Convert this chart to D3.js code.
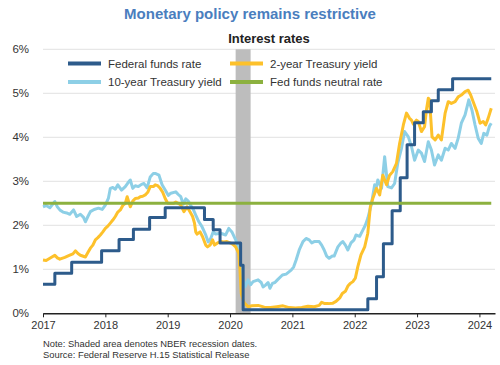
<!DOCTYPE html>
<html>
<head>
<meta charset="utf-8">
<script src="https://cdn.jsdelivr.net/npm/d3@7"></script>
<style>
  body { margin: 0; background: #fff; }
  svg { font-family: "Liberation Sans", Arial, sans-serif; }
</style>
</head>
<body>
<svg id="chart" width="500" height="365"></svg>
<script>
// --- data (decimal years, percent) ---
var fedFundsT = [2017.00, 2017.19, 2017.46, 2017.94, 2018.22, 2018.45, 2018.71, 2018.96, 2019.59, 2019.73, 2019.84, 2020.17, 2020.21,
  2022.21, 2022.35, 2022.46, 2022.60, 2022.73, 2022.84, 2022.96, 2023.10, 2023.23, 2023.34, 2023.57, 2024.19];
var fedFundsV = [0.66, 0.91, 1.16, 1.42, 1.68, 1.91, 2.18, 2.40, 2.13, 1.90, 1.60, 1.09, 0.08,
  0.33, 0.83, 1.58, 2.33, 3.08, 3.83, 4.33, 4.58, 4.83, 5.08, 5.33, 5.33];

var tenYearT = [2017.00, 2017.05, 2017.11, 2017.19, 2017.23, 2017.27, 2017.32, 2017.38, 2017.43, 2017.49, 2017.54, 2017.60, 2017.65, 2017.68, 2017.72, 2017.76, 2017.82, 2017.89, 2017.95,
  2018.00, 2018.05, 2018.08, 2018.12, 2018.16, 2018.20, 2018.26, 2018.32, 2018.36, 2018.40, 2018.44, 2018.48, 2018.53, 2018.58, 2018.62, 2018.67, 2018.72, 2018.77, 2018.80, 2018.86, 2018.91, 2018.96,
  2019.01, 2019.05, 2019.13, 2019.17, 2019.21, 2019.25, 2019.29, 2019.33, 2019.37, 2019.41, 2019.45, 2019.50, 2019.55, 2019.61, 2019.65, 2019.69, 2019.73, 2019.77, 2019.85, 2019.93, 2019.98,
  2020.03, 2020.09, 2020.14, 2020.17, 2020.19, 2020.22, 2020.24, 2020.29, 2020.33, 2020.37, 2020.45, 2020.50, 2020.53, 2020.57, 2020.61, 2020.64, 2020.68, 2020.72, 2020.76, 2020.84, 2020.90, 2020.98,
  2021.02, 2021.06, 2021.11, 2021.17, 2021.22, 2021.27, 2021.31, 2021.35, 2021.43, 2021.47, 2021.51, 2021.55, 2021.59, 2021.64, 2021.67, 2021.73, 2021.78, 2021.81, 2021.85, 2021.89, 2021.94, 2021.99,
  2022.02, 2022.08, 2022.13, 2022.17, 2022.21, 2022.27, 2022.32, 2022.35, 2022.37, 2022.43, 2022.48, 2022.53, 2022.59, 2022.64, 2022.69, 2022.75, 2022.80, 2022.86, 2022.91, 2022.96,
  2023.02, 2023.07, 2023.12, 2023.18, 2023.23, 2023.28, 2023.34, 2023.39, 2023.45, 2023.50, 2023.55, 2023.61, 2023.66, 2023.71, 2023.77, 2023.83, 2023.88, 2023.93, 2023.98,
  2024.03, 2024.07, 2024.12, 2024.16, 2024.19];
var tenYearV = [2.42, 2.45, 2.40, 2.54, 2.42, 2.35, 2.30, 2.28, 2.25, 2.35, 2.20, 2.25, 2.18, 2.08, 2.20, 2.31, 2.36, 2.39, 2.36,
  2.46, 2.62, 2.84, 2.86, 2.82, 2.92, 2.80, 2.88, 2.96, 3.03, 2.84, 2.90, 2.88, 2.93, 2.95, 2.85, 3.10, 3.18, 3.18, 3.14, 2.92, 2.80,
  2.68, 2.73, 2.76, 2.70, 2.65, 2.48, 2.60, 2.55, 2.45, 2.36, 2.23, 2.08, 1.97, 1.78, 1.62, 1.70, 1.85, 1.80, 1.82, 1.78, 1.93,
  1.85, 1.67, 1.48, 1.10, 0.80, 0.72, 0.60, 0.76, 0.65, 0.72, 0.76, 0.70, 0.60, 0.64, 0.70, 0.57, 0.68, 0.70, 0.76, 0.87, 0.89, 0.98,
  1.05, 1.21, 1.44, 1.63, 1.70, 1.67, 1.60, 1.63, 1.63, 1.55, 1.44, 1.30, 1.25, 1.30, 1.30, 1.51, 1.60, 1.63, 1.55, 1.44, 1.60, 1.67,
  1.78, 1.75, 1.89, 2.00, 2.16, 2.50, 2.92, 2.88, 3.03, 2.84, 3.56, 2.88, 2.85, 2.95, 3.41, 3.75, 4.13, 4.01, 3.79, 3.48,
  3.71, 3.64, 3.45, 3.90, 3.71, 3.37, 3.60, 3.48, 3.75, 3.71, 3.86, 3.75, 3.98, 4.32, 4.51, 4.85, 4.62, 4.28, 3.98,
  3.86, 4.09, 4.05, 4.25, 4.32];

var twoYearT = [2017.00, 2017.05, 2017.11, 2017.19, 2017.23, 2017.27, 2017.35, 2017.43, 2017.48, 2017.52, 2017.56, 2017.60, 2017.68, 2017.72, 2017.76, 2017.80, 2017.84, 2017.88, 2017.92, 2017.96,
  2018.00, 2018.04, 2018.08, 2018.12, 2018.16, 2018.20, 2018.24, 2018.28, 2018.32, 2018.35, 2018.40, 2018.44, 2018.48, 2018.53, 2018.56, 2018.60, 2018.64, 2018.68, 2018.72, 2018.77, 2018.80, 2018.84, 2018.88, 2018.92, 2018.96,
  2019.00, 2019.05, 2019.09, 2019.13, 2019.17, 2019.21, 2019.26, 2019.31, 2019.36, 2019.40, 2019.43, 2019.45, 2019.47, 2019.52, 2019.56, 2019.61, 2019.64, 2019.68, 2019.72, 2019.75, 2019.80, 2019.85, 2019.90, 2019.95,
  2020.02, 2020.06, 2020.09, 2020.14, 2020.16, 2020.18, 2020.21, 2020.23, 2020.29, 2020.35, 2020.45, 2020.55, 2020.65, 2020.75, 2020.85, 2020.95,
  2021.05, 2021.15, 2021.25, 2021.35, 2021.43, 2021.47, 2021.52, 2021.58, 2021.65, 2021.70, 2021.76, 2021.80, 2021.85, 2021.89, 2021.93, 2021.97,
  2022.01, 2022.05, 2022.10, 2022.16, 2022.21, 2022.25, 2022.29, 2022.35, 2022.40, 2022.45, 2022.51, 2022.56, 2022.61, 2022.67, 2022.72, 2022.78, 2022.83, 2022.88, 2022.91, 2022.94, 2022.99,
  2023.02, 2023.07, 2023.12, 2023.15, 2023.18, 2023.20, 2023.24, 2023.29, 2023.34, 2023.39, 2023.45, 2023.50, 2023.55, 2023.61, 2023.66, 2023.71, 2023.77, 2023.82, 2023.86, 2023.90, 2023.96,
  2024.01, 2024.06, 2024.10, 2024.14, 2024.19];
var twoYearV = [1.21, 1.20, 1.25, 1.32, 1.26, 1.23, 1.27, 1.32, 1.35, 1.42, 1.36, 1.32, 1.28, 1.38, 1.48, 1.55, 1.67, 1.72, 1.78, 1.85,
  1.93, 1.98, 2.05, 2.12, 2.20, 2.30, 2.35, 2.45, 2.50, 2.65, 2.42, 2.55, 2.61, 2.62, 2.65, 2.66, 2.69, 2.75, 2.88, 2.88, 2.92, 2.90, 2.84, 2.75, 2.61,
  2.50, 2.50, 2.50, 2.53, 2.50, 2.46, 2.31, 2.42, 2.30, 2.20, 2.05, 1.85, 1.80, 1.85, 1.74, 1.55, 1.51, 1.55, 1.67, 1.55, 1.60, 1.63, 1.62, 1.63,
  1.59, 1.55, 1.51, 1.36, 0.98, 0.45, 0.30, 0.23, 0.15, 0.17, 0.18, 0.14, 0.13, 0.15, 0.17, 0.13,
  0.12, 0.13, 0.16, 0.15, 0.18, 0.25, 0.22, 0.22, 0.23, 0.27, 0.35, 0.45, 0.50, 0.62, 0.68, 0.72,
  0.80, 1.06, 1.33, 1.51, 1.82, 2.42, 2.61, 2.84, 2.69, 3.14, 2.92, 3.14, 3.22, 3.41, 3.86, 4.28, 4.55, 4.43, 4.39, 4.30, 4.39,
  4.36, 4.13, 4.24, 4.62, 4.89, 4.85, 4.01, 3.94, 4.05, 3.94, 4.55, 4.81, 4.77, 4.81, 4.92, 4.96, 5.04, 5.07, 4.96, 4.81, 4.58,
  4.32, 4.36, 4.28, 4.43, 4.66];

var neutralT = [2017.00, 2024.19];
var neutralV = [2.5, 2.5];

var recession = [2020.09, 2020.33];
var yearTicks = [2017, 2018, 2019, 2020, 2021, 2022, 2023, 2024];
var pctTicks = [0, 1, 2, 3, 4, 5, 6];

// --- config ---
var colFed = "#2d5b8b";
var colTen = "#8dcfe6";
var colTwo = "#fdc12b";
var colNeutral = "#8cb13f";

var svg = d3.select("#chart");
var x = d3.scaleLinear().domain([2017, 2024.25]).range([43, 495]);
var y = d3.scaleLinear().domain([0, 6]).range([313.3, 49.3]);

// title
svg.append("text").attr("x", 250).attr("y", 19).attr("text-anchor", "middle")
  .attr("font-size", 15).attr("font-weight", "bold").attr("fill", "#4a7ebe")
  .text("Monetary policy remains restrictive");
svg.append("text").attr("x", 269).attr("y", 43).attr("text-anchor", "middle")
  .attr("font-size", 13).attr("font-weight", "bold").attr("fill", "#222")
  .text("Interest rates");

// gridlines + y labels
svg.append("g").selectAll("line").data(pctTicks.slice(1)).enter().append("line")
  .attr("x1", 43).attr("x2", 495)
  .attr("y1", d => y(d)).attr("y2", d => y(d))
  .attr("stroke", "#e2e2e2").attr("stroke-width", 1);
svg.append("g").selectAll("text").data(pctTicks).enter().append("text")
  .attr("x", 29).attr("y", d => y(d)).attr("dy", "0.35em")
  .attr("text-anchor", "end").attr("font-size", 11.5).attr("fill", "#333")
  .text(d => d + "%");

// recession band
svg.append("rect")
  .attr("x", x(recession[0])).attr("width", x(recession[1]) - x(recession[0]))
  .attr("y", y(6)).attr("height", y(0) - y(6))
  .attr("fill", "#bdbdbd");

// x axis
var xAxis = d3.axisBottom(x).tickValues(yearTicks).tickFormat(d3.format("d"))
  .tickSize(4).tickSizeOuter(0);
var gx = svg.append("g").attr("transform", "translate(0," + y(0) + ")").call(xAxis);
gx.select(".domain").attr("stroke", "#222").attr("stroke-width", 1.6);
gx.selectAll(".tick line").attr("stroke", "#222");
gx.selectAll(".tick text").attr("font-size", 11).attr("fill", "#333")
  .attr("font-family", "Liberation Sans, Arial, sans-serif").attr("dy", "0.75em");

// series
function drawSeries(ts, vs, color, curve) {
  var pts = ts.map((t, i) => [t, vs[i]]);
  var line = d3.line().x(d => x(d[0])).y(d => y(d[1])).curve(curve || d3.curveLinear);
  svg.append("path").datum(pts)
    .attr("d", line)
    .attr("fill", "none")
    .attr("stroke", color)
    .attr("stroke-width", 3)
    .attr("stroke-linejoin", "round");
}
drawSeries(tenYearT, tenYearV, colTen);
drawSeries(twoYearT, twoYearV, colTwo);
drawSeries(fedFundsT, fedFundsV, colFed, d3.curveStepAfter);
drawSeries(neutralT, neutralV, colNeutral);

// legend
var legendItems = [
  { label: "Federal funds rate", color: colFed, lx: 68, ly: 63.5 },
  { label: "10-year Treasury yield", color: colTen, lx: 68, ly: 82 },
  { label: "2-year Treasury yield", color: colTwo, lx: 230, ly: 63.5 },
  { label: "Fed funds neutral rate", color: colNeutral, lx: 230, ly: 82 }
];
var lg = svg.append("g").selectAll("g").data(legendItems).enter().append("g");
lg.append("line")
  .attr("x1", d => d.lx).attr("x2", d => d.lx + 33)
  .attr("y1", d => d.ly).attr("y2", d => d.ly)
  .attr("stroke", d => d.color).attr("stroke-width", 4);
lg.append("text")
  .attr("x", d => d.lx + 40).attr("y", d => d.ly).attr("dy", "0.35em")
  .attr("font-size", 11.5).attr("fill", "#333")
  .text(d => d.label);

// notes
svg.append("text").attr("x", 43).attr("y", 347).attr("font-size", 9.4).attr("fill", "#333")
  .text("Note: Shaded area denotes NBER recession dates.");
svg.append("text").attr("x", 43).attr("y", 358).attr("font-size", 9.4).attr("fill", "#333")
  .text("Source: Federal Reserve H.15 Statistical Release");
</script>
</body>
</html>
